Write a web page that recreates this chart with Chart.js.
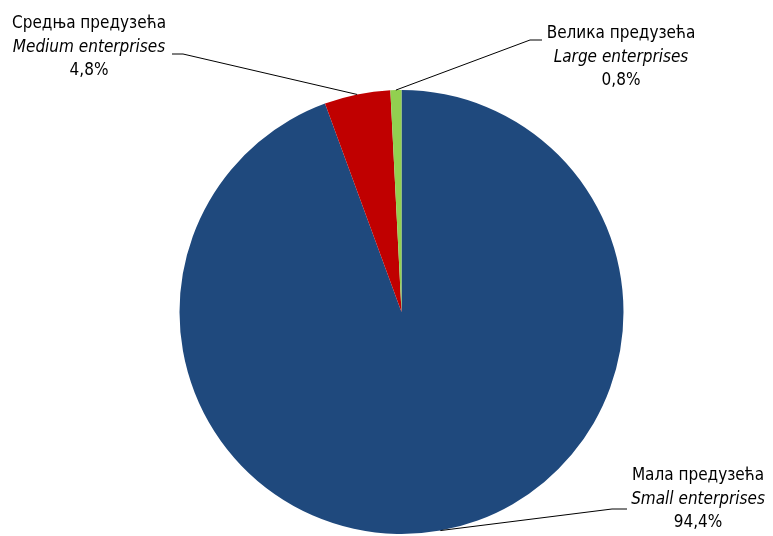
<!DOCTYPE html>
<html>
<head>
<meta charset="utf-8">
<script src="https://cdn.jsdelivr.net/npm/chart.js@4"></script>
<style>
    html, body { margin: 0; padding: 0; background: #fff; }
    #wrap { width: 773px; height: 536px; }
</style>
</head>
<body>
<div id="wrap"><canvas id="myChart"></canvas></div>
<script>
const labelsSr = ['Мала предузећа', 'Средња предузећа', 'Велика предузећа'];
const labelsEn = ['Small enterprises', 'Medium enterprises', 'Large enterprises'];
const shares = [94.4, 4.8, 0.8];
const colors = ['#1F497D', '#C00000', '#92D050'];

const FONT = "'Liberation Sans Narrow', 'Arial Narrow', 'DejaVu Sans Condensed', sans-serif";

// где стоји текст и где почиње линија (x, y центра првог реда, крај линије)
const labelPlaces = [
    { x: 698, y: 476, lineX: 627, lineY: 509, elbowX: 612 },
    { x: 89, y: 24, lineX: 172, lineY: 54, elbowX: 183 },
    { x: 621, y: 34, lineX: 542, lineY: 40, elbowX: 530 }
];

const outerLabels = {
    id: 'outerLabels',
    afterDraw(chart) {
        const ctx = chart.ctx;
        const meta = chart.getDatasetMeta(0);
        ctx.save();
        meta.data.forEach(function (arc, i) {
            const p = labelPlaces[i];
            const mid = (arc.startAngle + arc.endAngle) / 2;
            const ex = arc.x + Math.cos(mid) * arc.outerRadius;
            const ey = arc.y + Math.sin(mid) * arc.outerRadius;

            ctx.strokeStyle = '#000';
            ctx.lineWidth = 1;
            ctx.beginPath();
            ctx.moveTo(p.lineX, p.lineY);
            ctx.lineTo(p.elbowX, p.lineY);
            ctx.lineTo(ex, ey);
            ctx.stroke();

            ctx.fillStyle = '#000';
            ctx.textAlign = 'center';
            ctx.textBaseline = 'middle';
            ctx.font = '17px ' + FONT;
            ctx.fillText(labelsSr[i], p.x, p.y);
            ctx.font = 'italic 17px ' + FONT;
            ctx.fillText(labelsEn[i], p.x, p.y + 23.5);
            ctx.font = '17px ' + FONT;
            ctx.fillText(shares[i].toFixed(1).replace('.', ',') + '%', p.x, p.y + 47);
        });
        ctx.restore();
    }
};

new Chart(document.getElementById('myChart').getContext('2d'), {
    type: 'pie',
    data: {
        labels: labelsEn,
        datasets: [{
            data: shares,
            backgroundColor: colors,
            borderWidth: 0
        }]
    },
    options: {
        responsive: true,
        maintainAspectRatio: false,
        animation: false,
        layout: { padding: { left: 179, right: 149, top: 90, bottom: 2 } },
        plugins: {
            legend: { display: false },
            tooltip: { enabled: false }
        }
    },
    plugins: [outerLabels]
});
</script>
</body>
</html>
